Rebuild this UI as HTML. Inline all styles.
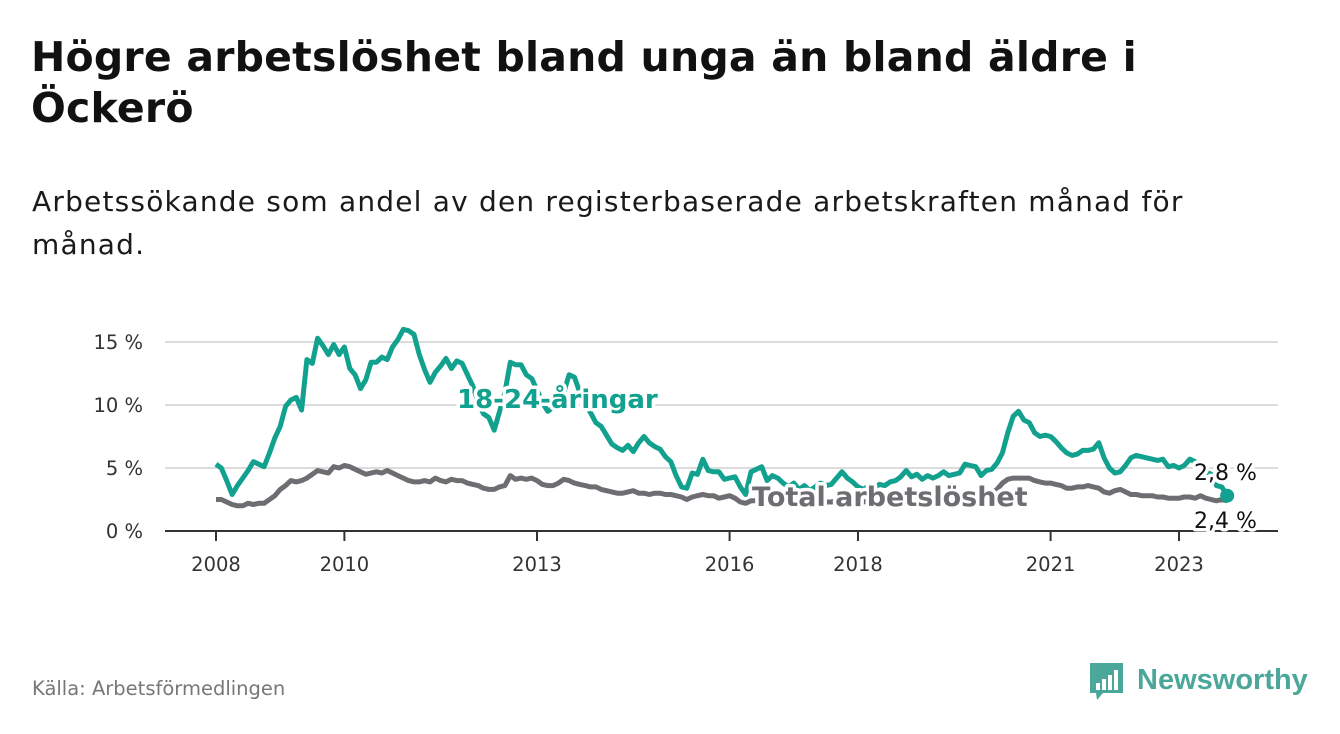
<!DOCTYPE html>
<html><head><meta charset="utf-8"><style>
body{margin:0;background:#fff;width:1340px;height:734px;overflow:hidden;font-family:"DejaVu Sans","Liberation Sans",sans-serif;}
.t{position:absolute;left:31px;top:32px;font-size:41px;font-weight:bold;color:#111;line-height:51px;margin:0;letter-spacing:0.2px;}
.s{position:absolute;left:32px;top:180px;font-size:28px;color:#1a1a1a;line-height:43px;width:1300px;letter-spacing:1.2px;}
.src{position:absolute;left:32px;top:677px;font-size:19.5px;color:#777;}
svg{position:absolute;left:0;top:0;}
</style></head><body>
<h1 class="t">Högre arbetslöshet bland unga än bland äldre i<br>Öckerö</h1>
<div class="s">Arbetssökande som andel av den registerbaserade arbetskraften månad för<br>månad.</div>
<div class="src">Källa: Arbetsförmedlingen</div>
<svg id="c" width="1340" height="734"></svg>
<script>
const yTicks=[0,5,10,15];
const yTickLabels=["0 %","5 %","10 %","15 %"];
const xTickYears=[2008,2010,2013,2016,2018,2021,2023];
const youth=[
5.3,5.0,4.0,2.9,3.6,4.2,4.8,5.5,5.3,5.1,6.2,7.4,
8.3,9.9,10.4,10.6,9.6,13.6,13.3,15.3,14.7,14.0,14.8,14.0,
14.6,12.9,12.4,11.3,12.0,13.4,13.4,13.8,13.6,14.6,15.2,16.0,
15.9,15.6,14.0,12.8,11.8,12.6,13.1,13.7,12.9,13.5,13.3,12.4,
11.5,10.2,9.3,9.0,8.0,9.5,11.0,13.4,13.2,13.2,12.4,12.1,
11.2,10.2,9.5,9.8,10.5,11.0,12.4,12.2,11.0,10.0,9.4,8.6,
8.3,7.6,6.9,6.6,6.4,6.8,6.3,7.0,7.5,7.0,6.7,6.5,
5.9,5.5,4.4,3.5,3.4,4.6,4.5,5.7,4.8,4.7,4.7,4.1,
4.2,4.3,3.5,2.9,4.7,4.9,5.1,4.0,4.4,4.2,3.8,3.5,
3.8,3.3,3.6,3.2,3.5,3.8,3.6,3.7,4.2,4.7,4.2,3.9,
3.5,3.3,3.6,3.4,3.7,3.6,3.9,4.0,4.3,4.8,4.3,4.5,
4.1,4.4,4.2,4.4,4.7,4.4,4.5,4.6,5.3,5.2,5.1,4.4,
4.8,4.9,5.4,6.2,7.8,9.1,9.5,8.8,8.6,7.8,7.5,7.6,
7.5,7.1,6.6,6.2,6.0,6.1,6.4,6.4,6.5,7.0,5.8,5.0,
4.6,4.7,5.2,5.8,6.0,5.9,5.8,5.7,5.6,5.7,5.1,5.2,
5.0,5.2,5.7,5.5,5.1,4.7,4.5,3.6,3.5,2.8];
const total=[
2.5,2.5,2.3,2.1,2.0,2.0,2.2,2.1,2.2,2.2,2.5,2.8,
3.3,3.6,4.0,3.9,4.0,4.2,4.5,4.8,4.7,4.6,5.1,5.0,
5.2,5.1,4.9,4.7,4.5,4.6,4.7,4.6,4.8,4.6,4.4,4.2,
4.0,3.9,3.9,4.0,3.9,4.2,4.0,3.9,4.1,4.0,4.0,3.8,
3.7,3.6,3.4,3.3,3.3,3.5,3.6,4.4,4.1,4.2,4.1,4.2,
4.0,3.7,3.6,3.6,3.8,4.1,4.0,3.8,3.7,3.6,3.5,3.5,
3.3,3.2,3.1,3.0,3.0,3.1,3.2,3.0,3.0,2.9,3.0,3.0,
2.9,2.9,2.8,2.7,2.5,2.7,2.8,2.9,2.8,2.8,2.6,2.7,
2.8,2.6,2.3,2.2,2.4,2.4,2.5,2.4,2.5,2.5,2.4,2.3,
2.4,2.3,2.4,2.3,2.3,2.4,2.3,2.3,2.4,2.5,2.4,2.4,
2.3,2.3,2.4,2.3,2.4,2.5,2.5,2.6,2.6,2.7,2.6,2.7,
2.6,2.7,2.8,2.7,2.8,2.9,2.8,2.9,3.0,3.0,2.9,3.0,
3.0,3.0,3.3,3.8,4.1,4.2,4.2,4.2,4.2,4.0,3.9,3.8,
3.8,3.7,3.6,3.4,3.4,3.5,3.5,3.6,3.5,3.4,3.1,3.0,
3.2,3.3,3.1,2.9,2.9,2.8,2.8,2.8,2.7,2.7,2.6,2.6,
2.6,2.7,2.7,2.6,2.8,2.6,2.5,2.4,2.5,2.4];
const NS="http://www.w3.org/2000/svg";
const svg=document.getElementById('c');
const X0=165,X1=1278;
function xOfMonth(i){return 216+i*64.2/12;}
function xOfYear(y){return xOfMonth((y-2008)*12);}
function yOf(v){return 531-v*12.6;}
function mk(tag,attrs,parent){const e=document.createElementNS(NS,tag);for(const k in attrs)e.setAttribute(k,attrs[k]);(parent||svg).appendChild(e);return e;}
yTicks.forEach((v,i)=>{
  if(v>0){const g=mk('line',{x1:X0,x2:X1,y1:yOf(v),y2:yOf(v),stroke:'#dcdcdc','stroke-width':2});
  
  }
  const t=mk('text',{x:143,y:yOf(v)+7,'text-anchor':'end','font-size':19.5,fill:'#333'});
  t.textContent=yTickLabels[i];
  
  
});
const ax=mk('line',{x1:X0,x2:X1,y1:531,y2:531,stroke:'#333','stroke-width':2});


xTickYears.forEach(y=>{
  const x=xOfYear(y);
  const tk=mk('line',{x1:x,x2:x,y1:531,y2:541,stroke:'#333','stroke-width':2});
  
  
  const t=mk('text',{x:x,y:571,'text-anchor':'middle','font-size':19.5,fill:'#333'});
  t.textContent=y;
  
  
});
function pathOf(arr){return arr.map((v,i)=>(i?'L':'M')+xOfMonth(i).toFixed(1)+','+yOf(v).toFixed(1)).join('');}
const lt=mk('path',{d:pathOf(total),fill:'none',stroke:'#6d6d72','stroke-width':5,'stroke-linejoin':'round'});


const ly=mk('path',{d:pathOf(youth),fill:'none',stroke:'#12a08f','stroke-width':5,'stroke-linejoin':'round'});


const li=youth.length-1;
const dot=mk('circle',{cx:xOfMonth(li),cy:yOf(youth[li]),r:7,fill:'#12a08f'});


function lab(txt,x,y,size,fill,bold,name){
  const t=mk('text',{x:x,y:y,'font-size':size,fill:fill,'font-weight':bold?'bold':'normal',stroke:'#fff','stroke-width':7,'paint-order':'stroke','stroke-linejoin':'round'});
  t.textContent=txt;
  
  
}
lab('18-24-åringar',457,408,26,'#12a08f',true,'youth-series-label');
lab('Total arbetslöshet',752,506,27,'#6d6d72',true,'total-series-label');
lab('2,8 %',1194,480,22,'#111',false,'youth-end-value');
lab('2,4 %',1194,528,22,'#111',false,'total-end-value');
const lg=mk('g',{});


mk('path',{d:'M1090,663 h33 v30 h-20 l-6,7 l-1,-7 h-6 z',fill:'#4aa79a'},lg);
mk('rect',{x:1096,y:683,width:4,height:7,fill:'#fff'},lg);
mk('rect',{x:1102,y:679,width:4,height:11,fill:'#fff'},lg);
mk('rect',{x:1108,y:675,width:4,height:15,fill:'#fff'},lg);
mk('rect',{x:1114,y:670,width:4,height:20,fill:'#fff'},lg);
const lt2=mk('text',{x:1137,y:689,'font-size':29,fill:'#4aa79a','font-weight':'bold','font-family':'Liberation Sans'},lg);
lt2.textContent='Newsworthy';
</script>
</body></html>
